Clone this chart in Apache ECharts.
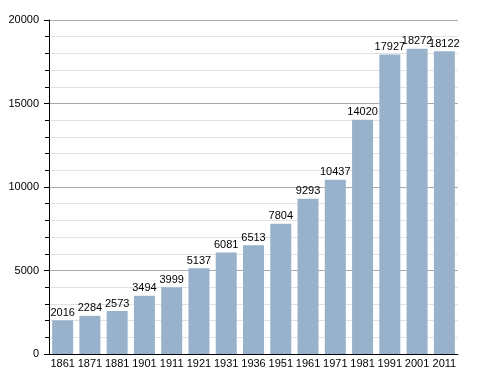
<!DOCTYPE html>
<html><head><meta charset="utf-8">
<script src="https://cdn.jsdelivr.net/npm/echarts@6/dist/echarts.min.js"></script>
<style>html,body{margin:0;padding:0;background:#fff}#c{width:488px;height:373px}</style>
</head><body><div id="c"></div>
<script>
var categories = ['1861','1871','1881','1901','1911','1921','1931','1936','1951','1961','1971','1981','1991','2001','2011'];
var population = [2016,2284,2573,3494,3999,5137,6081,6513,7804,9293,10437,14020,17927,18272,18122];
var yTicks = [0,5000,10000,15000,20000];

var chart = echarts.init(document.getElementById('c'), null, {renderer:'canvas'});
var font = 'Liberation Sans, Arial, sans-serif';
chart.setOption({
  animation:false,
  grid:{left:49, right:30, top:20, bottom:19, containLabel:false},
  xAxis:{
    type:'category', data:categories, boundaryGap:true,
    axisLine:{lineStyle:{color:'#000', width:1}},
    axisTick:{show:false},
    axisLabel:{color:'#000', fontFamily:font, fontSize:11, margin:4, interval:0}
  },
  yAxis:{
    type:'value', min:yTicks[0], max:yTicks[yTicks.length-1], interval:5000,
    axisLine:{show:true, lineStyle:{color:'#000', width:1}},
    axisTick:{show:true, inside:false, length:5, lineStyle:{color:'#000'}},
    minorTick:{show:true, splitNumber:5, length:4, lineStyle:{color:'#000'}},
    splitLine:{show:true, lineStyle:{color:'#aaaaaa', width:1}},
    minorSplitLine:{show:true, lineStyle:{color:'#e2e2e2', width:1}},
    axisLabel:{color:'#000', fontFamily:font, fontSize:11, margin:10, formatter:function(v){return String(v);}}
  },
  series:[{
    type:'bar', data:population, barWidth:21,
    itemStyle:{color:'#99b2cc'},
    label:{show:true, position:'top', distance:2, color:'#000', fontFamily:font, fontSize:11, formatter:function(p){return String(p.value);}}
  }]
});
</script></body></html>
